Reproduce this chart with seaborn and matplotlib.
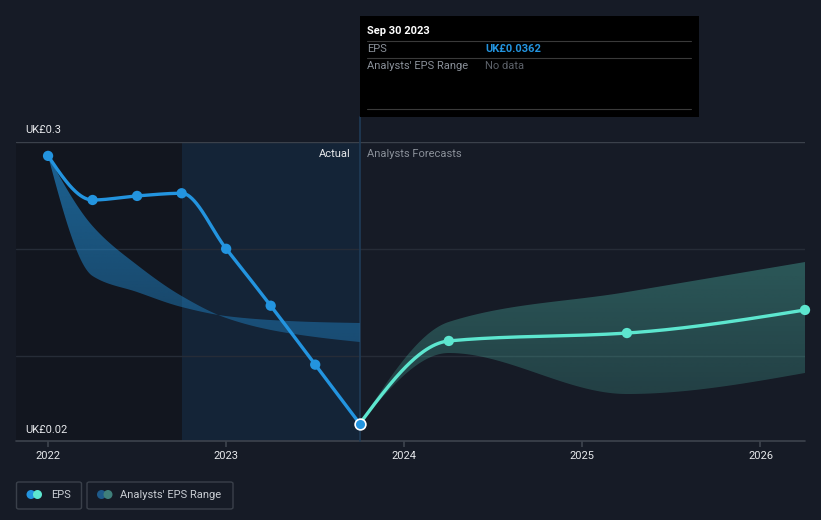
import numpy as np
import pandas as pd
import matplotlib
matplotlib.use("Agg")
import matplotlib.pyplot as plt
from matplotlib.patches import Rectangle, FancyBboxPatch, Ellipse, PathPatch
from matplotlib.colors import to_rgb
import seaborn as sns

# ---------------- data ----------------
past_x = [2022.0, 2022.25, 2022.5, 2022.75, 2023.0, 2023.25, 2023.5, 2023.75]
past_eps = [0.287, 0.2457, 0.2495, 0.252, 0.200, 0.1467, 0.0915, 0.0362]
past_range_a = [0.287, 0.2213, 0.1848, 0.1558, 0.1352, 0.124, 0.1174, 0.1127]
past_range_b = [0.287, 0.1745, 0.1595, 0.1455, 0.137, 0.1333, 0.1314, 0.1305]

fc_x = [2023.75, 2024.25, 2025.25, 2026.25]
fc_eps = [0.0362, 0.1137, 0.1211, 0.1427]
fc_range_hi = [0.0362, 0.1315, 0.1595, 0.1876]
fc_range_lo = [0.0362, 0.1024, 0.064, 0.0837]

year_ticks = [2022, 2023, 2024, 2025, 2026]
y_labels = {0.3: "UK£0.3", 0.02: "UK£0.02"}

# ---------------- helpers ----------------
def monotone(x, y, n=60):
    x = np.asarray(x, float); y = np.asarray(y, float)
    h = np.diff(x); d = np.diff(y) / h
    m = np.zeros_like(y)
    for i in range(1, len(y) - 1):
        if d[i - 1] * d[i] <= 0:
            m[i] = 0
        else:
            m[i] = 3 * (h[i - 1] + h[i]) / ((2 * h[i] + h[i - 1]) / d[i - 1] + (h[i] + 2 * h[i - 1]) / d[i])
    m[0] = (3 * d[0] - m[1]) / 2
    m[-1] = (3 * d[-1] - m[-2]) / 2
    xs, ys = [], []
    for i in range(len(h)):
        t = np.linspace(0, 1, n, endpoint=(i == len(h) - 1))
        h00 = 2 * t**3 - 3 * t**2 + 1
        h10 = t**3 - 2 * t**2 + t
        h01 = -2 * t**3 + 3 * t**2
        h11 = t**3 - t**2
        xs.append(x[i] + t * h[i])
        ys.append(h00 * y[i] + h10 * h[i] * m[i] + h01 * y[i + 1] + h11 * h[i] * m[i + 1])
    return np.concatenate(xs), np.concatenate(ys)

W, H = 821, 520
def fx(px): return px / W
def fy(py): return 1 - py / H

BG = "#161b26"
BLUE = "#2394df"
TEAL = "#5de6cf"
TXT = "#e6e8eb"
GREY = "#8a9099"

sns.set_theme(style="dark")
plt.rcParams["font.family"] = ["Roboto", "DejaVu Sans"]

fig = plt.figure(figsize=(W / 100, H / 100), dpi=100, facecolor=BG)
ax = fig.add_axes([fx(16), fy(441), (805 - 16) / W, (441 - 142) / H])
ax.set_facecolor(BG)
XL = (2021.82, 2026.25)
YL = (0.02, 0.3)

# background regions
ax.axvspan(XL[0], 2022.75, color="#12161f", zorder=0, lw=0)
ax.axvspan(2022.75, 2023.75, color="#142437", zorder=0, lw=0)

# grid lines
for v, c in [(0.3, "#3b414b"), (0.2, "#262c37"), (0.1, "#262c37")]:
    ax.axhline(v, color=c, lw=1, zorder=1)
for s in ax.spines.values():
    s.set_visible(False)
ax.axhline(0.02, color="#3d434d", lw=1.2, zorder=1, clip_on=False)

# vertical marker line
ax.axvline(2023.75, ymin=0, ymax=(441 - 117) / 299, color="#1f3b57", lw=1.2, zorder=2, clip_on=False)

def gradient_band(x, lo, hi, color, a_top, a_bot, ytop, ybot):
    poly = ax.fill_between(x, lo, hi, color="none", lw=0)
    path = poly.get_paths()[0]
    clip = PathPatch(path, facecolor="none", edgecolor="none", transform=ax.transData)
    ax.add_patch(clip)
    img = np.zeros((200, 1, 4))
    img[:, :, :3] = to_rgb(color)
    img[:, 0, 3] = np.linspace(a_bot, a_top, 200)
    im = ax.imshow(img, aspect="auto", origin="lower", extent=[min(x), max(x), ybot, ytop],
                   zorder=3, interpolation="bilinear")
    im.set_clip_path(clip)

bx, ba = monotone(past_x, past_range_a)
_, bb = monotone(past_x, past_range_b)
gradient_band(bx, ba, bb, BLUE, 0.6, 0.36, 0.287, 0.112)
fxs, fhi = monotone(fc_x, fc_range_hi)
_, flo = monotone(fc_x, fc_range_lo)
gradient_band(fxs, flo, fhi, TEAL, 0.3, 0.16, 0.19, 0.036)

# EPS lines
px, py = monotone(past_x, past_eps)
sns.lineplot(x=px, y=py, ax=ax, color=BLUE, lw=2.4, zorder=5, sort=False, estimator=None)
qx, qy = monotone(fc_x, fc_eps)
sns.lineplot(x=qx, y=qy, ax=ax, color=TEAL, lw=2.4, zorder=5, sort=False, estimator=None)

sns.scatterplot(x=past_x[:-1], y=past_eps[:-1], ax=ax, color=BLUE, s=55, edgecolor="none", zorder=6)
sns.scatterplot(x=fc_x[1:], y=fc_eps[1:], ax=ax, color=TEAL, s=55, edgecolor="none", zorder=6, clip_on=False)
sns.scatterplot(x=[past_x[-1]], y=[past_eps[-1]], ax=ax, color=BLUE, s=60, edgecolor="white",
                linewidth=1.2, zorder=7, clip_on=False)

ax.set_xlim(*XL)
ax.set_ylim(*YL)

# ticks
ax.set_xticks(year_ticks)
ax.set_xticklabels([str(y) for y in year_ticks], color=TXT, fontsize=8)
ax.tick_params(axis="x", length=4, color="#3d434d", pad=3, bottom=True)
ax.set_yticks([])
ax.set_xlabel(""); ax.set_ylabel("")
ax.grid(False)

# y labels
fig.text(fx(25), fy(130), y_labels[0.3], color=TXT, fontsize=8, va="center", ha="left")
fig.text(fx(25), fy(430), y_labels[0.02], color=TXT, fontsize=8, va="center", ha="left")

# Actual / Forecast labels
fig.text(fx(351), fy(154), "Actual", color=TXT, fontsize=8, va="center", ha="right")
fig.text(fx(367), fy(154), "Analysts Forecasts", color=GREY, fontsize=8, va="center", ha="left")

# tooltip
fig.patches.append(Rectangle((fx(360), fy(117)), 339 / W, 101 / H, transform=fig.transFigure,
                             facecolor="#000000", edgecolor="none", zorder=10))
for yy in [41, 58, 109]:
    fig.add_artist(plt.Line2D([fx(367), fx(691)], [fy(yy), fy(yy)], transform=fig.transFigure,
                              color="#3a3a3a", lw=0.8, zorder=11))
fig.text(fx(367), fy(31), "Sep 30 2023", color="white", fontsize=8, fontweight="bold", va="center", zorder=12)
fig.text(fx(367), fy(49), "EPS", color=GREY, fontsize=8, va="center", zorder=12)
fig.text(fx(485), fy(49), "UK£0.0362", color=BLUE, fontsize=8, fontweight="bold", va="center", zorder=12)
fig.text(fx(367), fy(66), "Analysts' EPS Range", color=GREY, fontsize=8, va="center", zorder=12)
fig.text(fx(485), fy(66), "No data", color="#5c6169", fontsize=8, va="center", zorder=12)

# legend
def legend_box(x0, x1, c1, c2, label, tx):
    fig.patches.append(FancyBboxPatch((fx(x0), fy(509)), (x1 - x0) / W, 27 / H,
                                      boxstyle="round,pad=0,rounding_size=0.003",
                                      transform=fig.transFigure, facecolor="none",
                                      edgecolor="#3a404a", lw=1, zorder=10))
    cy = 494.5
    for cx, c in [(x0 + 14.5, c1), (x0 + 21, c2)]:
        fig.patches.append(Ellipse((fx(cx), fy(cy)), 9 / W, 9 / H, transform=fig.transFigure,
                                   facecolor=c, edgecolor="none", zorder=11))
    fig.text(fx(tx), fy(cy), label, color="#c9cdd3", fontsize=8, va="center", ha="left", zorder=12)

legend_box(16.5, 81.5, BLUE, TEAL, "EPS", 51)
legend_box(87, 233, "#1e5a8a", "#3f7f7a", "Analysts' EPS Range", 120)

fig.savefig("out.png", dpi=100, facecolor=BG)
